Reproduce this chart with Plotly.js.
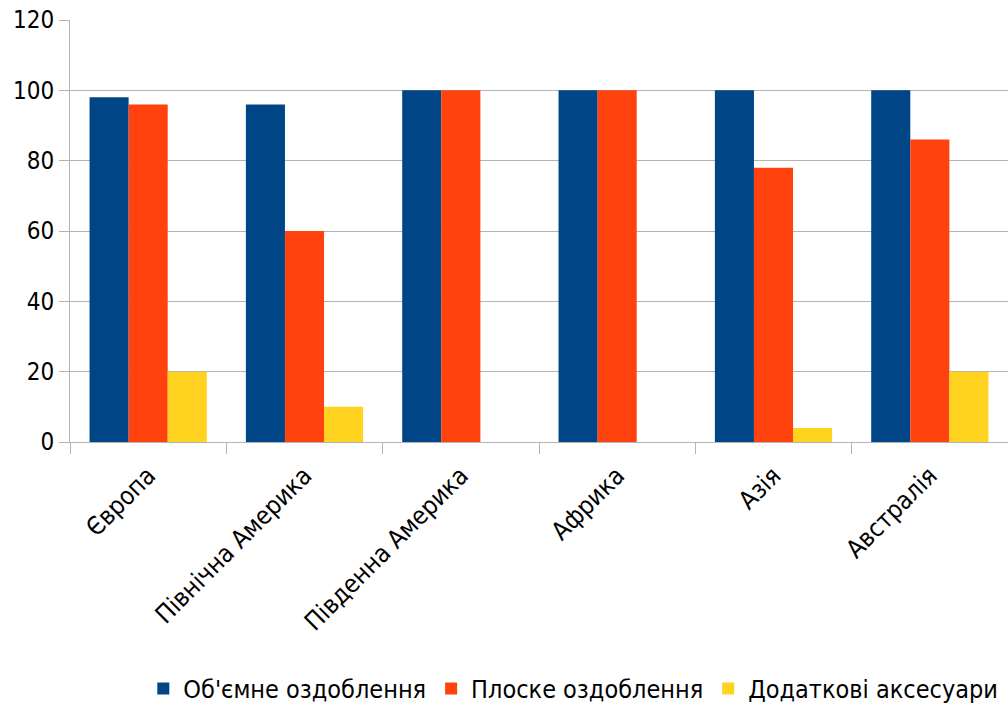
<!DOCTYPE html>
<html>
<head>
<meta charset="utf-8">
<script src="https://cdn.plot.ly/plotly-3.0.1.min.js"></script>
<style>html,body{margin:0;padding:0;background:#fff;}#chart{width:1008px;height:706px;}</style>
</head>
<body>
<div id="chart"></div>
<script>
const categories = ["Європа", "Північна Америка", "Південна Америка", "Африка", "Азія", "Австралія"];
const seriesNames = ["Об'ємне оздоблення", "Плоске оздоблення", "Додаткові аксесуари"];
const volumetric = [98, 96, 100, 100, 100, 100];
const flat = [96, 60, 100, 100, 78, 86];
const accessories = [20, 10, 0, 0, 4, 20];
const yTicks = [0, 20, 40, 60, 80, 100, 120];

const FONT = "DejaVu Sans Condensed, DejaVu Sans";
const colors = ["#004586", "#ff420e", "#ffd320"];
const values = [volumetric, flat, accessories];
const traces = values.map((v, i) => ({
  type: "bar",
  name: seriesNames[i],
  x: categories,
  y: v,
  marker: {color: colors[i], line: {width: 0}},
  hoverinfo: "x+y+name"
}));

const layout = {
  width: 1008,
  height: 706,
  margin: {l: 70, r: 0, t: 20, b: 264, pad: 0, autoexpand: false},
  paper_bgcolor: "#ffffff",
  plot_bgcolor: "#ffffff",
  font: {family: FONT, color: "#000000"},
  barmode: "group",
  bargap: 0.25,
  bargroupgap: 0,
  xaxis: {
    type: "category",
    tickangle: -45,
    tickfont: {size: 25, family: FONT},
    ticklabelstandoff: 8,
    showline: true,
    linecolor: "#b3b3b3",
    linewidth: 1,
    ticks: "outside",
    tickson: "boundaries",
    ticklen: 11,
    tickcolor: "#b3b3b3",
    showgrid: false,
    zeroline: false
  },
  yaxis: {
    range: [0, 120],
    tickvals: yTicks,
    ticktext: yTicks.map(String),
    tickfont: {size: 24, family: FONT},
    showgrid: true,
    gridcolor: "#b3b3b3",
    gridwidth: 1,
    showline: true,
    linecolor: "#b3b3b3",
    ticks: "outside",
    ticklen: 10,
    tickcolor: "#b3b3b3",
    zeroline: false
  },
  showlegend: true,
  legend: {
    orientation: "h",
    x: 0.995,
    xanchor: "right",
    y: -0.585,
    yanchor: "middle",
    font: {size: 25, family: FONT},
    itemwidth: 30,
    bgcolor: "rgba(0,0,0,0)"
  }
};

Plotly.newPlot("chart", traces, layout, {displayModeBar: false, staticPlot: true});
</script>
</body>
</html>
